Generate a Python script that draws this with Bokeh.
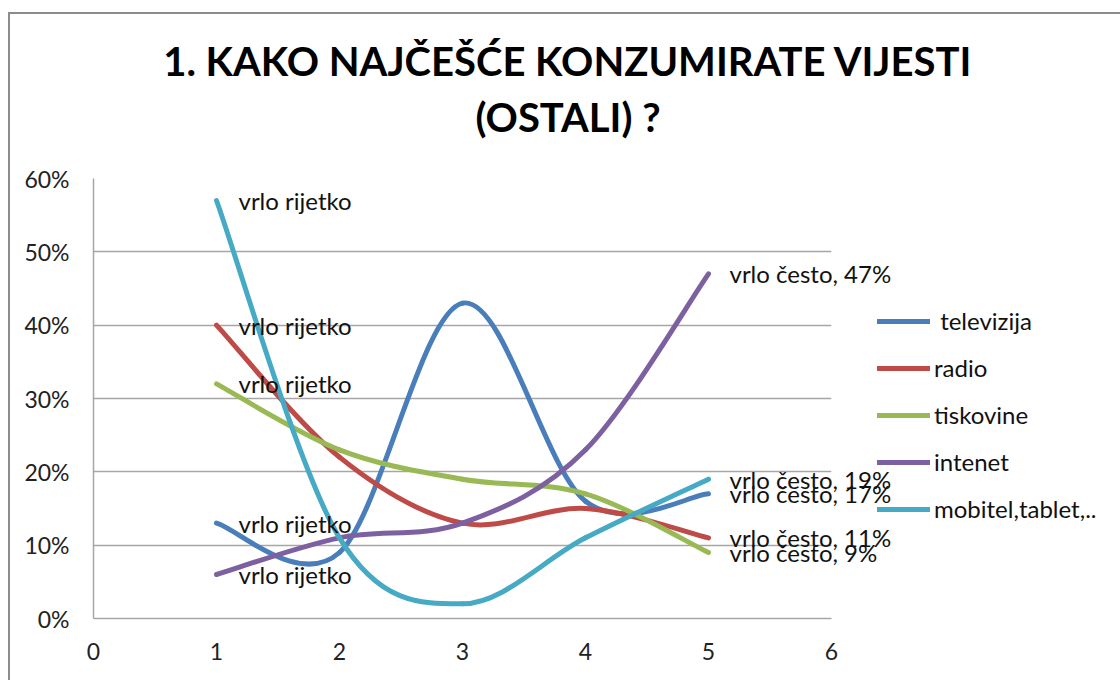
from bokeh.plotting import figure
from bokeh.models import Legend, LegendItem, PrintfTickFormatter, FixedTicker, Range1d, ColumnDataSource
from bokeh.core.properties import value
from bokeh.embed import file_html
from bokeh.resources import INLINE

# ---------------- data ----------------
x_vals = [1, 2, 3, 4, 5]
series_names = [" televizija", "radio", "tiskovine", "intenet", "mobitel,tablet,.."]
televizija = [13, 9, 43, 16, 17]
radio = [40, 22, 13, 15, 11]
tiskovine = [32, 23, 19, 17, 9]
intenet = [6, 11, 13, 23, 47]
mobitel = [57, 11, 2, 11, 19]
colors = ["#4A7EBB", "#BE4B48", "#98B954", "#7D60A0", "#46AAC5"]
first_label = "vrlo rijetko"
last_label = "vrlo često"
title_lines = ["1. KAKO NAJČEŠĆE KONZUMIRATE VIJESTI", "(OSTALI) ?"]
x_ticks = [0, 1, 2, 3, 4, 5, 6]
y_ticks = [0, 10, 20, 30, 40, 50, 60]

series = [televizija, radio, tiskovine, intenet, mobitel]

FONT = "Lato"
X0, X1 = x_ticks[0], x_ticks[-1]
Y0, Y1 = y_ticks[0], y_ticks[-1]

p = figure(frame_width=738, frame_height=440,
           x_range=Range1d(X0, X1), y_range=Range1d(Y0, Y1),
           min_border_left=83, min_border_top=164, min_border_right=289, min_border_bottom=62,
           output_backend="svg", toolbar_location=None)
p.margin = (12, 0, 0, 8)
p.styles = {"border-top": "2px solid #8c8c8c", "border-left": "2px solid #8c8c8c"}
p.outline_line_color = None
p.background_fill_color = "white"
p.border_fill_color = "white"

p.xgrid.visible = False
p.ygrid.grid_line_color = "#a6a6a6"
p.ygrid.grid_line_width = 1.5
p.ygrid.ticker = FixedTicker(ticks=y_ticks)

for ax in (p.xaxis[0], p.yaxis[0]):
    ax.axis_line_color = "#a6a6a6"
    ax.axis_line_width = 1.5
    ax.major_tick_line_color = None
    ax.minor_tick_line_color = None
    ax.major_label_text_font = FONT
    ax.major_label_text_font_size = "23px"
    ax.major_label_text_color = "#222222"

p.xaxis.ticker = FixedTicker(ticks=x_ticks)
p.yaxis.ticker = FixedTicker(ticks=y_ticks)
p.yaxis.formatter = PrintfTickFormatter(format="%d%%")
p.yaxis.major_label_standoff = 18
p.xaxis.major_label_standoff = 18


def bezier_segments(xs, ys):
    n = len(xs)
    out = dict(x0=[], y0=[], x1=[], y1=[], cx0=[], cy0=[], cx1=[], cy1=[])
    for i in range(n - 1):
        im = max(i - 1, 0)
        ip2 = min(i + 2, n - 1)
        out["x0"].append(xs[i]); out["y0"].append(ys[i])
        out["x1"].append(xs[i + 1]); out["y1"].append(ys[i + 1])
        out["cx0"].append(xs[i] + (xs[i + 1] - xs[im]) / 6.0)
        out["cy0"].append(ys[i] + (ys[i + 1] - ys[im]) / 6.0)
        out["cx1"].append(xs[i + 1] - (xs[ip2] - xs[i]) / 6.0)
        out["cy1"].append(ys[i + 1] - (ys[ip2] - ys[i]) / 6.0)
    return out


items = []
for name, ys, col in zip(series_names, series, colors):
    src = ColumnDataSource(bezier_segments(x_vals, ys))
    r = p.bezier(x0="x0", y0="y0", x1="x1", y1="y1", cx0="cx0", cy0="cy0", cx1="cx1", cy1="cy1",
                 source=src, line_color=col, line_width=5, line_cap="round")
    items.append(LegendItem(label=name, renderers=[r]))

# data labels
for ys in series:
    p.text(x=[x_vals[0]], y=[ys[0]], text=[first_label], x_offset=22,
           text_baseline="middle", text_align="left", text_font=value(FONT),
           text_font_size="24px", text_color="#111111", level="overlay")
    p.text(x=[x_vals[-1]], y=[ys[-1]], text=[f"{last_label}, {ys[-1]}%"], x_offset=21,
           text_baseline="middle", text_align="left", text_font=value(FONT),
           text_font_size="24px", text_color="#111111", level="overlay")

legend = Legend(items=items, location=(46, 95), orientation="vertical",
                glyph_width=53, glyph_height=20, label_height=20, spacing=18,
                label_standoff=4, padding=0, margin=0,
                label_text_font=FONT, label_text_font_size="24px", label_text_color="#111111",
                border_line_color=None, background_fill_alpha=0)
p.add_layout(legend, "right")

# chart title, anchored at the frame's top-left corner and offset in screen pixels
p.text(x=[X0, X0], y=[Y1, Y1], text=title_lines, x_offset=[474.5, 474.5], y_offset=[-118, -62],
       text_align="center", text_baseline="alphabetic", text_font=value(FONT),
       text_font_style="bold", text_font_size="40px", text_color="#000000", level="overlay")

p.width = 1110
p.height = 666

open("out.html", "w").write(file_html(p, INLINE))
